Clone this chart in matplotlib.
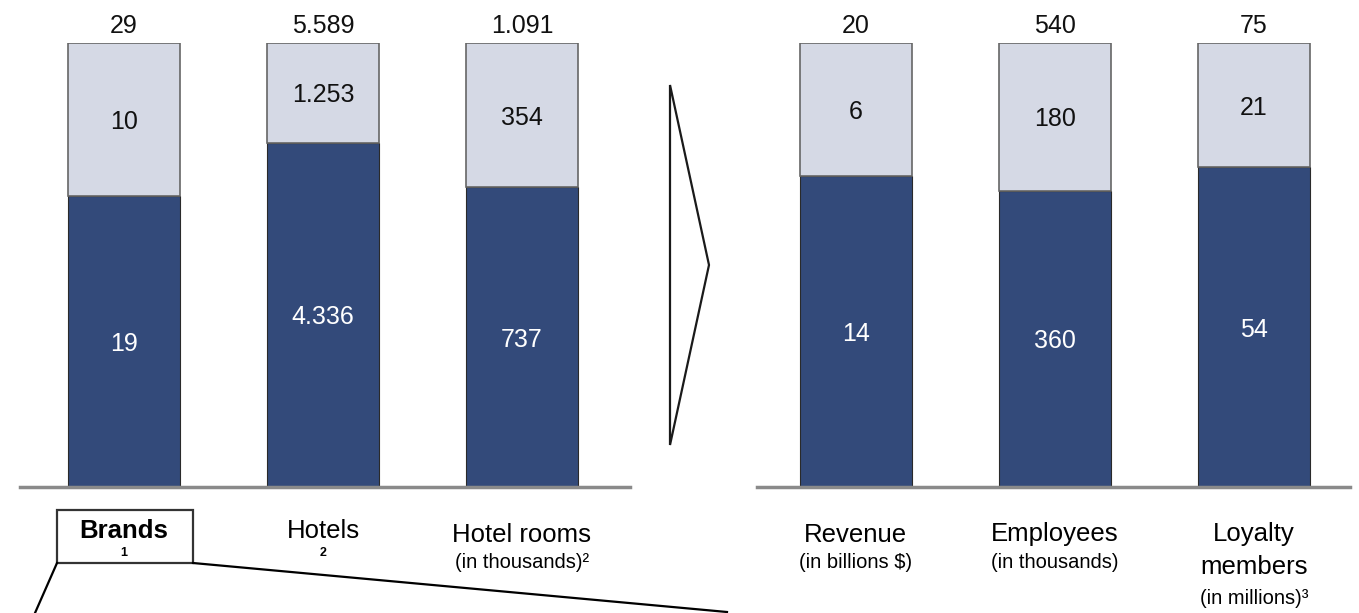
import matplotlib.pyplot as plt
from matplotlib.patches import Rectangle, Polygon
from matplotlib.lines import Line2D
import numpy as np

plt.rcParams['font.family'] = ['Liberation Sans', 'DejaVu Sans']

# left group
left_cats = ["Brands", "Hotels", "Hotel rooms"]
left_subs = ["1", "2", "(in thousands)²"]
left_bottom = [19, 4336, 737]
left_top = [10, 1253, 354]
left_bottom_lbl = ["19", "4.336", "737"]
left_top_lbl = ["10", "1.253", "354"]
left_total_lbl = ["29", "5.589", "1.091"]

# right group
right_cats = ["Revenue", "Employees", "Loyalty\nmembers"]
right_subs = ["(in billions $)", "(in thousands)", "(in millions)³"]
right_bottom = [14, 360, 54]
right_top = [6, 180, 21]
right_bottom_lbl = ["14", "360", "54"]
right_top_lbl = ["6", "180", "21"]
right_total_lbl = ["20", "540", "75"]

DARK = '#334a7a'
LIGHT = '#d5d9e5'
EDGE = '#666666'
NUM_FS = 18
CAT_FS = 18.5
SUB_FS = 14.5

W, H = 1359, 613
fig = plt.figure(figsize=(W / 100, H / 100), dpi=100)


def fx(px):
    return px / W


def fy(py):
    return 1 - py / H


def draw_group(x0, x1, xlim, bottoms, tops, b_lbl, t_lbl, tot_lbl):
    ax = fig.add_axes([fx(x0), fy(487), fx(x1 - x0), (487 - 43) / H])
    pos = np.arange(len(bottoms))
    b = np.array(bottoms, float)
    t = np.array(tops, float)
    pb = b / (b + t) * 100
    pt = 100 - pb
    ax.bar(pos, pb, width=0.563, color=DARK, edgecolor='#2a2a2a', linewidth=0.8)
    ax.bar(pos, pt, bottom=pb, width=0.563, color=LIGHT, edgecolor=EDGE, linewidth=1.2)
    for i in range(len(pos)):
        ax.text(pos[i], pb[i] / 2, b_lbl[i], color='white', ha='center',
                va='center_baseline', fontsize=NUM_FS)
        ax.text(pos[i], pb[i] + pt[i] / 2, t_lbl[i], color='#111111', ha='center',
                va='center_baseline', fontsize=NUM_FS)
        ax.text(pos[i], 104.5, tot_lbl[i], color='#111111', ha='center',
                va='center_baseline', fontsize=NUM_FS)
    ax.set_xlim(*xlim)
    ax.set_ylim(0, 100)
    ax.axhline(0, color='#8a8a8a', linewidth=2.5, clip_on=False)
    ax.axis('off')
    return ax


axl = draw_group(20, 630, (-0.523, 2.543), left_bottom, left_top,
                 left_bottom_lbl, left_top_lbl, left_total_lbl)
axr = draw_group(757, 1350, (-0.497, 2.482), right_bottom, right_top,
                 right_bottom_lbl, right_top_lbl, right_total_lbl)

# category labels under the bars
for i, (cat, sub) in enumerate(zip(left_cats, left_subs)):
    xc = axl.transData.transform((i, 0))[0] / W
    weight = 'bold' if i == 0 else 'normal'
    if len(sub) == 1:
        # footnote number sits under the word
        fig.text(xc, fy(528), cat, ha='center', va='center_baseline', fontsize=CAT_FS, fontweight=weight)
        fig.text(xc, fy(553), sub, ha='center', va='center', fontsize=9, fontweight='bold')
    else:
        fig.text(xc, fy(532), cat, ha='center', va='center_baseline', fontsize=CAT_FS, fontweight=weight)
        fig.text(xc, fy(561), sub, ha='center', va='center_baseline', fontsize=SUB_FS)

for i, (cat, sub) in enumerate(zip(right_cats, right_subs)):
    xc = axr.transData.transform((i, 0))[0] / W
    lines = cat.split('\n')
    for k, ln in enumerate(lines):
        fig.text(xc, fy(532 + 33 * k), ln, ha='center', va='center_baseline', fontsize=CAT_FS)
    sub_y = 596 if len(lines) > 1 else 561
    fig.text(xc, fy(sub_y), sub, ha='center', va='center_baseline', fontsize=SUB_FS)

# chevron between the two groups
chev = Polygon([(fx(670), fy(85)), (fx(709), fy(265)), (fx(670), fy(445))], closed=True,
               fill=False, edgecolor='#1a1a1a', linewidth=1.6, transform=fig.transFigure)
fig.add_artist(chev)

# box around "Brands" and the callout lines
box = Rectangle((fx(57), fy(563)), fx(193 - 57), (563 - 510) / H, fill=False,
                edgecolor='#333333', linewidth=1.6, transform=fig.transFigure)
fig.add_artist(box)
fig.add_artist(Line2D([fx(57), fx(35)], [fy(563), fy(613)], color='black', linewidth=1.6,
                      transform=fig.transFigure))
fig.add_artist(Line2D([fx(193), fx(727)], [fy(563), fy(612)], color='black', linewidth=1.6,
                      transform=fig.transFigure))

fig.savefig('out.png', dpi=100)
